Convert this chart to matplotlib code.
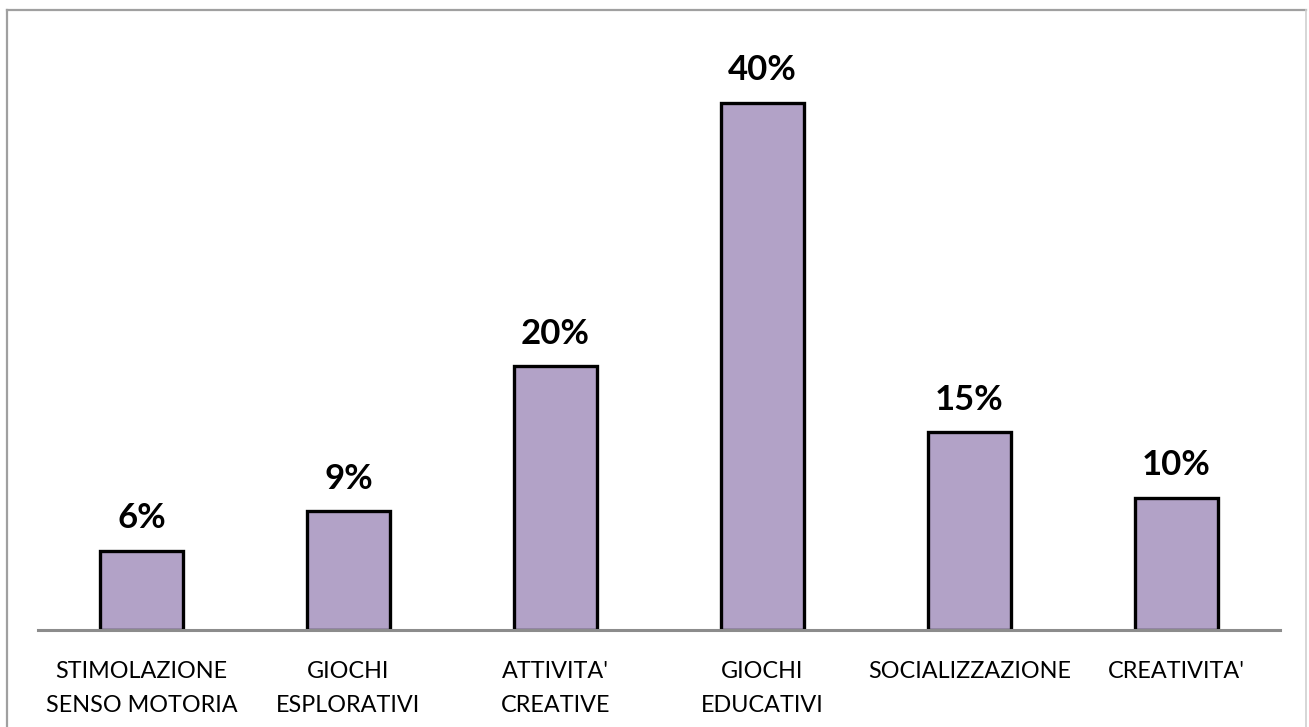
import matplotlib.pyplot as plt
from matplotlib.lines import Line2D

categories = ["STIMOLAZIONE\nSENSO MOTORIA", "GIOCHI\nESPLORATIVI", "ATTIVITA'\nCREATIVE",
              "GIOCHI\nEDUCATIVI", "SOCIALIZZAZIONE", "CREATIVITA'"]
values = [6, 9, 20, 40, 15, 10]
labels = ["6%", "9%", "20%", "40%", "15%", "10%"]

plt.rcParams['font.family'] = ['Lato', 'DejaVu Sans']

W, H = 1309, 727
fig = plt.figure(figsize=(W / 100, H / 100), dpi=100)
ax = fig.add_axes([38 / W, 1 - 630 / H, 1242 / W, 600 / H])

x = range(len(categories))
ax.bar(x, values, width=0.4, color="#B2A2C7", edgecolor="black", linewidth=2.4, zorder=2)

for i, v in enumerate(values):
    ax.annotate(labels[i], (i, v), xytext=(0, 12), textcoords="offset points",
                ha="center", va="bottom", fontsize=25, fontweight="bold")

ax.set_xlim(-0.5, len(categories) - 0.5)
ax.set_ylim(0, 45.5)
ax.set_yticks([])
ax.set_xticks(list(x))
ax.set_xticklabels(categories, fontsize=16.8, linespacing=1.77)
ax.tick_params(axis="x", length=0, pad=22)

for side in ["top", "right", "left"]:
    ax.spines[side].set_visible(False)
ax.spines["bottom"].set_color("#8C8C8C")
ax.spines["bottom"].set_linewidth(2.2)
ax.spines["bottom"].set_zorder(3)

# outer chart border
border = "#A0A0A0"
fig.add_artist(Line2D([7 / W, 7 / W], [0, 1 - 10 / H], color=border, lw=1.6, transform=fig.transFigure))
fig.add_artist(Line2D([7 / W, 1306 / W], [1 - 10 / H, 1 - 10 / H], color=border, lw=1.6, transform=fig.transFigure))
fig.add_artist(Line2D([1306 / W, 1306 / W], [0, 1 - 10 / H], color="#D0D0D0", lw=1.2, transform=fig.transFigure))

fig.savefig("out.png", dpi=100)
